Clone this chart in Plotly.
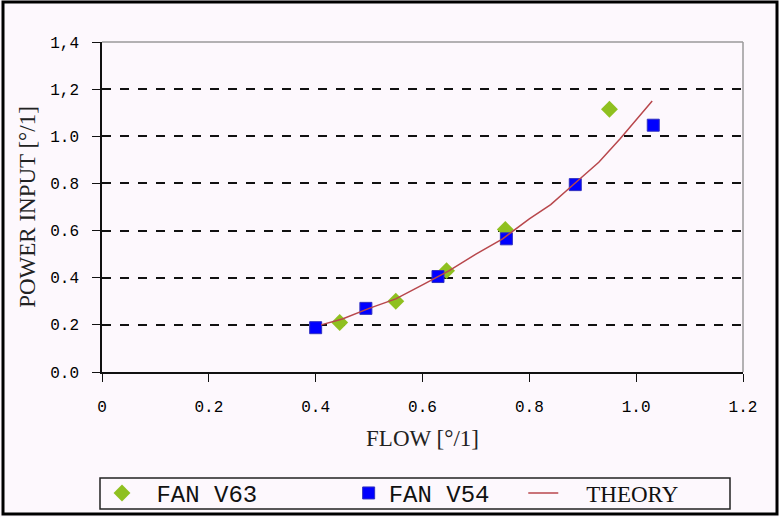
import plotly.graph_objects as go

# ---- data ----
v63_flow = [0.445, 0.55, 0.645, 0.755, 0.95]
v63_power = [0.21, 0.30, 0.43, 0.605, 1.115]

v54_flow = [0.40, 0.494, 0.629, 0.757, 0.886, 1.032]
v54_power = [0.188, 0.27, 0.405, 0.565, 0.795, 1.047]

theory_flow = [0.41, 0.45, 0.50, 0.55, 0.60, 0.65, 0.70, 0.75, 0.80, 0.84, 0.88, 0.93, 0.97, 1.03]
theory_power = [0.20, 0.225, 0.27, 0.31, 0.37, 0.43, 0.50, 0.565, 0.65, 0.71, 0.79, 0.89, 0.99, 1.15]

x_ticks = [0, 0.2, 0.4, 0.6, 0.8, 1.0, 1.2]
x_ticktext = ["0", "0.2", "0.4", "0.6", "0.8", "1.0", "1.2"]
y_ticks = [0, 0.2, 0.4, 0.6, 0.8, 1.0, 1.2, 1.4]
y_ticktext = ["0.0", "0.2", "0.4", "0.6", "0.8", "1.0", "1,2", "1,4"]

MONO = "Liberation Mono"
SERIF = "Liberation Serif"
NB = "\u00a0"

fig = go.Figure()
fig.add_trace(go.Scatter(
    x=v63_flow, y=v63_power, mode="markers",
    name=f'<span style="font-family:{MONO};font-size:24px">{NB}FAN V63{NB*6}</span>',
    marker=dict(symbol="diamond", size=13, color="#8fc020", line=dict(width=0)),
))
fig.add_trace(go.Scatter(
    x=v54_flow, y=v54_power, mode="markers",
    name=f'<span style="font-family:{MONO};font-size:24px">FAN V54{NB*2}</span>',
    marker=dict(symbol="square", size=12, color="#0000ff", line=dict(width=1, color="#3030c0")),
))
fig.add_trace(go.Scatter(
    x=theory_flow, y=theory_power, mode="lines",
    name=f"{NB*4}THEORY",
    line=dict(color="#b8474c", width=1.5),
))

W, H = 779, 517
L, R, T, B = 102, 36, 42, 145
pw, ph = W - L - R, H - T - B


def px_x(p):
    return (p - L) / pw


def px_y(p):
    return (H - B - p) / ph


fig.update_layout(
    width=W, height=H,
    margin=dict(l=L, r=R, t=T, b=B, pad=0, autoexpand=False),
    paper_bgcolor="#fdf8fd", plot_bgcolor="#fdf8fd",
    font=dict(family=SERIF, size=23, color="#111"),
    showlegend=True,
    legend=dict(
        orientation="h", x=px_x(102), xanchor="left", y=px_y(493), yanchor="middle",
        borderwidth=0, bgcolor="rgba(0,0,0,0)",
        font=dict(family=SERIF, size=23, color="#111"),
        itemwidth=30, tracegroupgap=0,
    ),
    xaxis=dict(
        range=[0, 1.2], tickvals=x_ticks, ticktext=x_ticktext,
        tickfont=dict(family=MONO, size=16, color="#000"),
        ticks="outside", ticklen=8, tickcolor="#111", tickwidth=1,
        ticklabelstandoff=11,
        showline=True, linecolor="#111", linewidth=1.5,
        showgrid=False, zeroline=False,
        title=dict(text="FLOW [°/1]", font=dict(family=SERIF, size=23, color="#222"), standoff=14),
    ),
    yaxis=dict(
        range=[0, 1.4], tickvals=y_ticks, ticktext=y_ticktext,
        tickfont=dict(family=MONO, size=16, color="#000"),
        ticks="outside", ticklen=8, tickcolor="#111", tickwidth=1,
        ticklabelstandoff=10,
        showline=True, linecolor="#111", linewidth=1.5,
        showgrid=True, gridcolor="#111", gridwidth=1.5, griddash="dash",
        zeroline=False,
        title=dict(text="POWER INPUT [°/1]", font=dict(family=SERIF, size=23, color="#222"), standoff=8),
    ),
)

# plot-area top/right border (grey)
fig.add_shape(type="line", xref="paper", yref="paper", x0=0, x1=1, y0=1, y1=1,
              line=dict(color="#9a9a9a", width=1.5))
fig.add_shape(type="line", xref="paper", yref="paper", x0=1, x1=1, y0=0, y1=1,
              line=dict(color="#9a9a9a", width=1.5))
# legend frame
fig.add_shape(type="rect", xref="paper", yref="paper",
              x0=px_x(100), x1=px_x(730), y0=px_y(509), y1=px_y(478),
              line=dict(color="#222", width=1.5), layer="above")
# outer frame of the picture
fig.add_shape(type="rect", xref="paper", yref="paper",
              x0=px_x(3), x1=px_x(777), y0=px_y(514), y1=px_y(2),
              line=dict(color="#000", width=3), layer="above")

fig.write_html("out.html")
